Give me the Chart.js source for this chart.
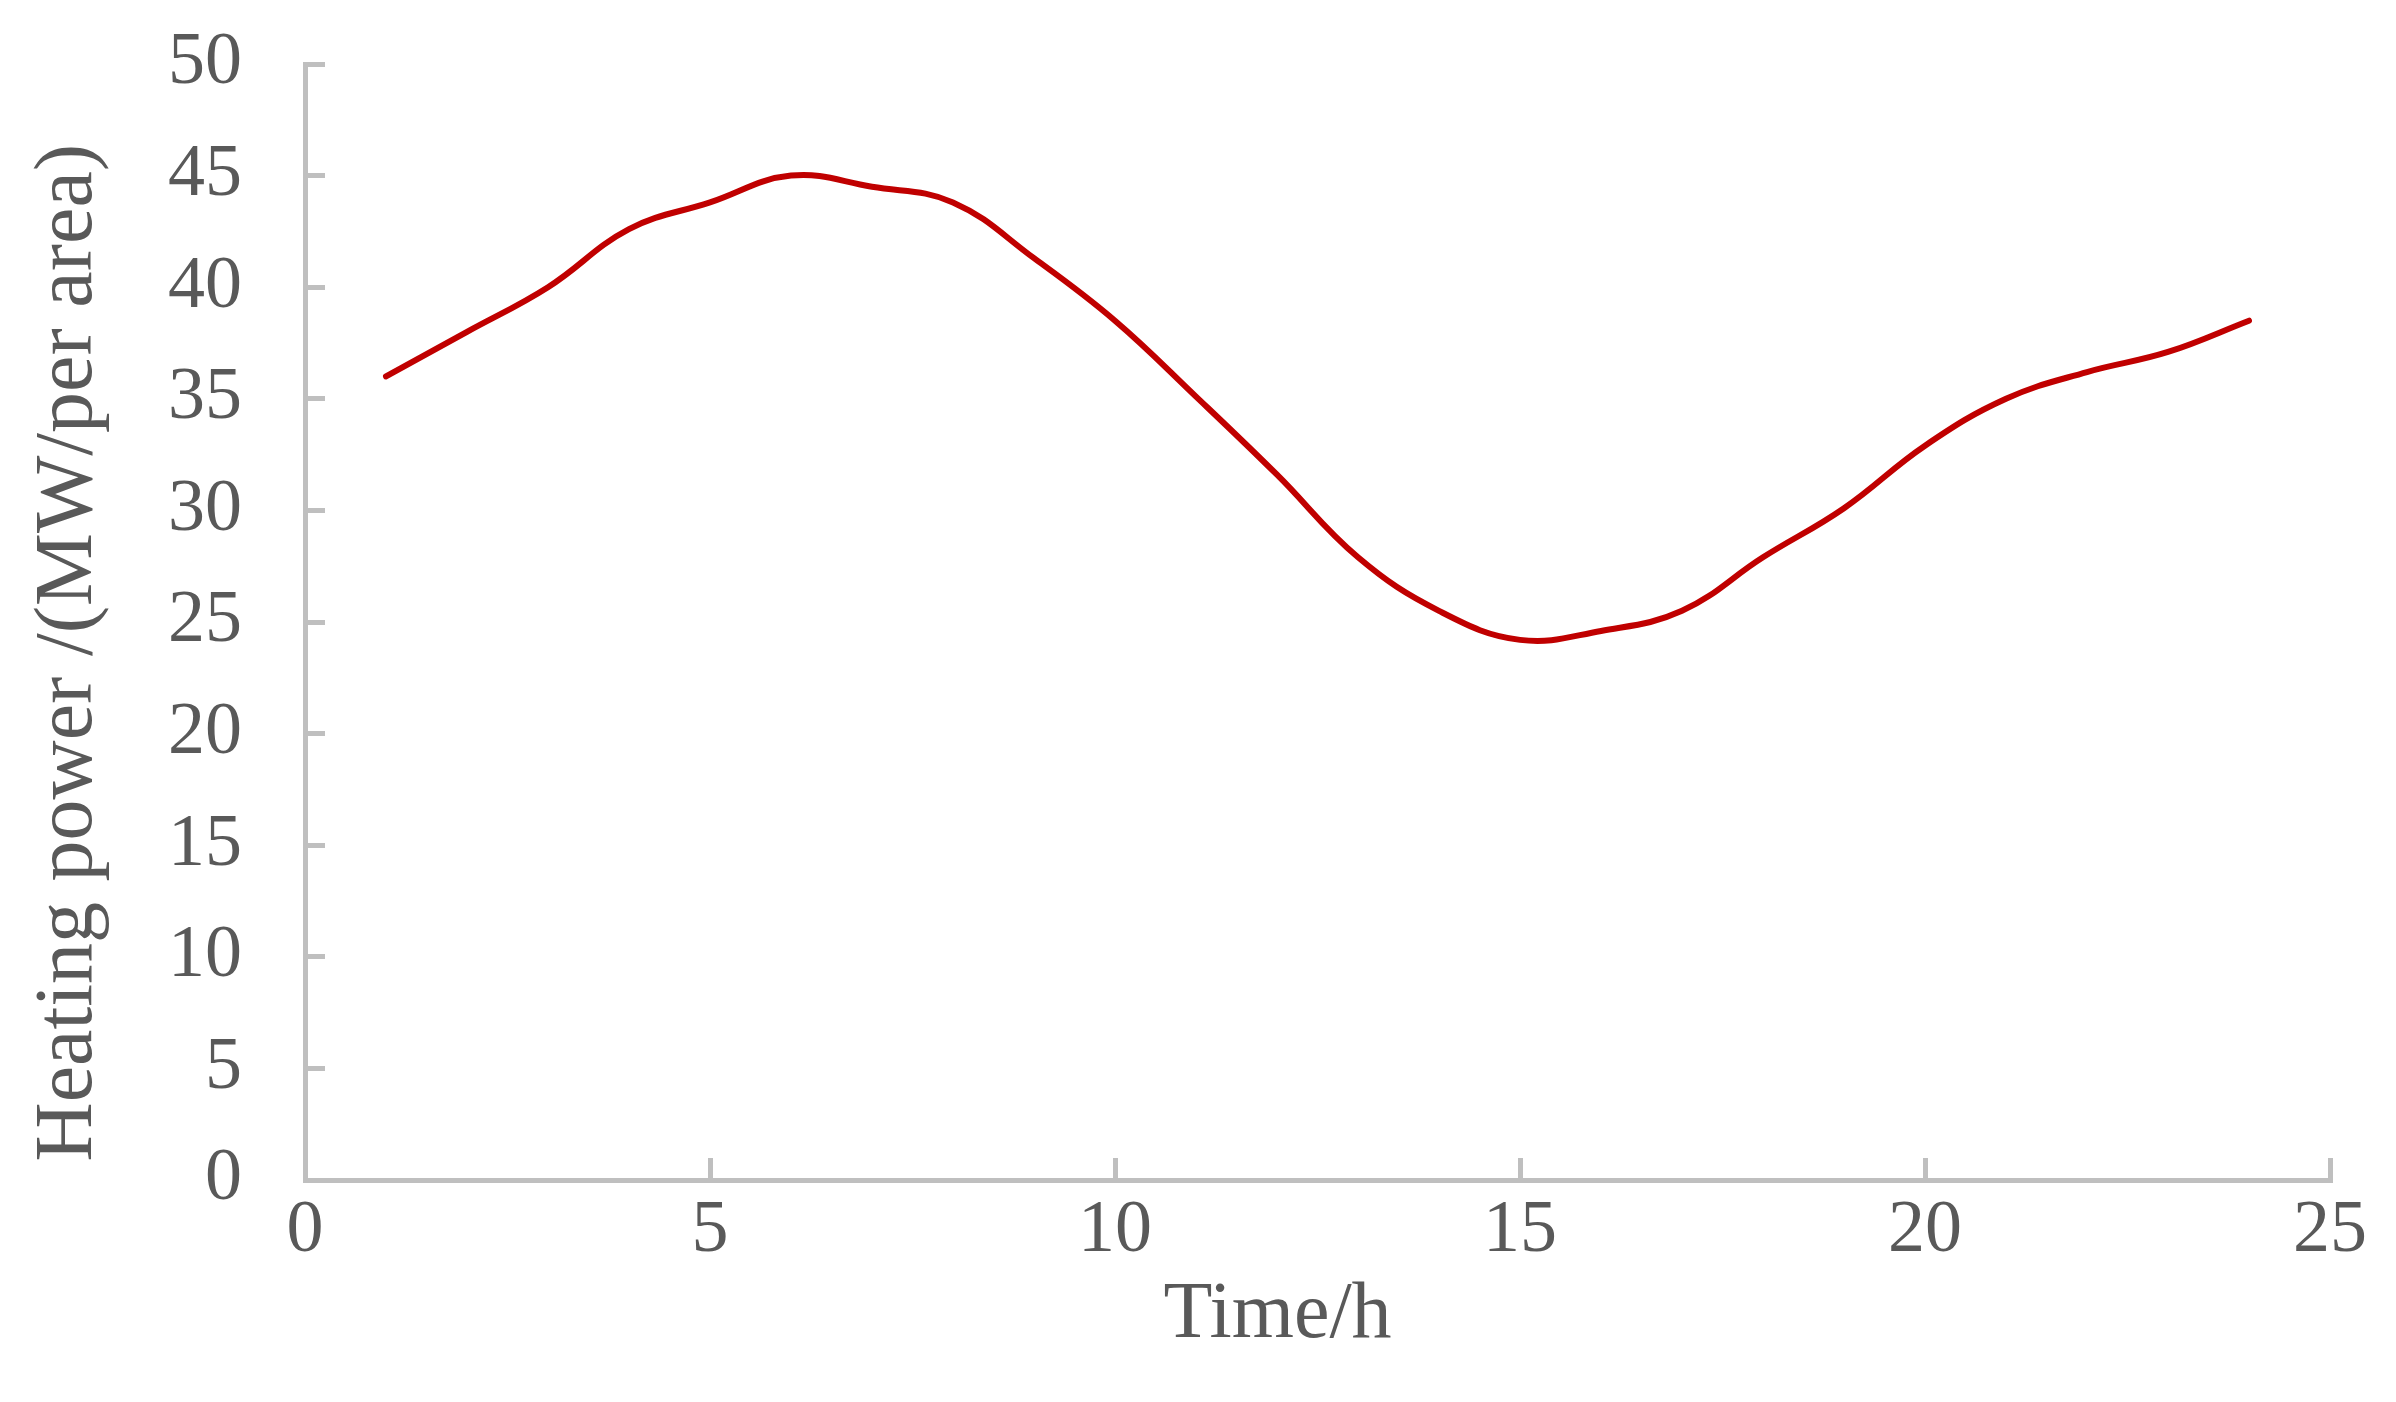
<!DOCTYPE html>
<html>
<head>
<meta charset="utf-8">
<script src="https://cdn.jsdelivr.net/npm/chart.js@4/dist/chart.umd.min.js"></script>
<style>
  html, body { margin: 0; padding: 0; background: #fff; }
  #wrap { width: 2396px; height: 1402px; }
</style>
</head>
<body>
<div id="wrap"><canvas id="heat-chart" width="2396" height="1402"></canvas></div>
<script>
const hours = [1, 2, 3, 4, 5, 6, 7, 8, 9, 10, 11, 12, 13, 14, 15, 16, 17, 18, 19, 20, 21, 22, 23, 24];
const heatingPower = [36.0, 38.0, 40.0, 42.6, 43.8, 45.0, 44.5, 43.8, 41.3, 38.5, 35.1, 31.6,
  27.9, 25.5, 24.2, 24.6, 25.5, 27.9, 30.1, 32.9, 35.0, 36.2, 37.1, 38.5];
const xTitle = "Time/h";
const yTitle = "Heating power /(MW/per area)";

const axisColor = "#BFBFBF";
const textColor = "#595959";
const serif = "'Liberation Serif', 'Times New Roman', serif";

const points = hours.map((h, i) => ({ x: h, y: heatingPower[i] }));

// titles sit a little off-centre in the original, pad with trailing nbsp
const pad = (s, n) => s + "\u00a0".repeat(n);

new Chart("heat-chart", {
  type: "line",
  data: {
    datasets: [
      {
        label: "Heating power",
        data: points,
        borderColor: "#C00000",
        borderWidth: 6,
        borderCapStyle: "round",
        pointRadius: 0,
        tension: 0.4,
        fill: false
      }
    ]
  },
  options: {
    responsive: false,
    animation: false,
    layout: { padding: { left: 15, right: 66, top: 64, bottom: 30 } },
    plugins: { legend: { display: false }, tooltip: { enabled: false } },
    scales: {
      x: {
        type: "linear",
        min: 0,
        max: 25,
        afterFit: (scale) => {
          scale.height = 1402 - 1180 - 30;
          scale.paddingLeft = 0;
          scale.paddingRight = 0;
        },
        ticks: {
          stepSize: 5,
          color: textColor,
          font: { family: serif, size: 74 },
          padding: 29,
          maxRotation: 0
        },
        grid: {
          drawOnChartArea: false,
          tickLength: -22,
          color: axisColor,
          lineWidth: 5
        },
        border: { display: true, color: axisColor, width: 5 },
        title: {
          display: true,
          text: pad(xTitle, 4),
          color: textColor,
          font: { family: serif, size: 80 },
          padding: { top: 0, bottom: 8 }
        }
      },
      y: {
        min: 0,
        max: 50,
        afterFit: (scale) => {
          scale.width = 305 - 15;
          scale.paddingTop = 0;
          scale.paddingBottom = 0;
        },
        ticks: {
          stepSize: 5,
          color: textColor,
          font: { family: serif, size: 74 },
          padding: 83
        },
        grid: {
          drawOnChartArea: false,
          tickLength: -20,
          color: axisColor,
          lineWidth: 5
        },
        border: { display: true, color: axisColor, width: 5 },
        title: {
          display: true,
          text: pad(yTitle, 3),
          color: textColor,
          font: { family: serif, size: 82 },
          padding: { top: 5, bottom: 0 }
        }
      }
    }
  }
});
</script>
</body>
</html>
